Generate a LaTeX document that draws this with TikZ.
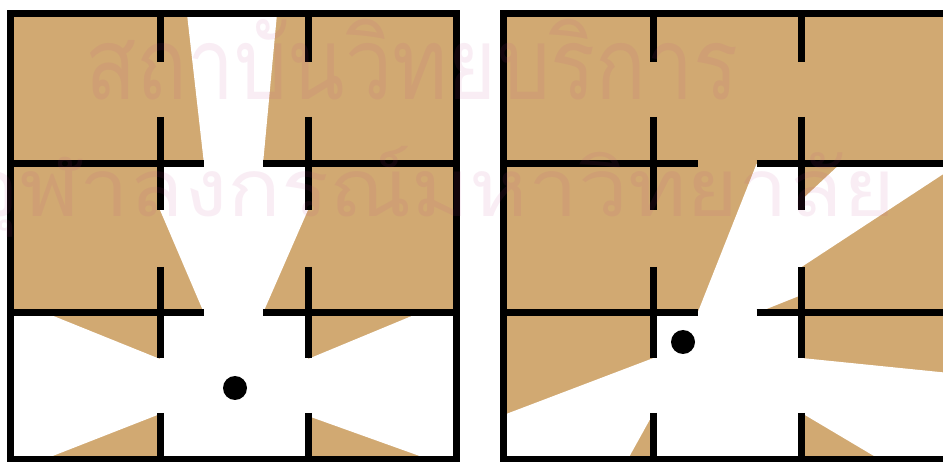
\documentclass[tikz,border=0pt]{standalone}
\usepackage{fontspec}
\newfontfamily\thaifont[Script=Thai]{Loma}
\definecolor{tanfill}{RGB}{209,169,114}
\definecolor{wmark}{RGB}{190,60,140}
\tikzset{
  wall/.style={line width=7pt, black, line cap=butt},
  lit/.style={fill=white, draw=none},
  lamp/.style={circle, fill=black, inner sep=0pt, minimum size=24pt},
  wm/.style={anchor=base west, inner sep=0pt, text=wmark, text opacity=0.09}
}
\begin{document}
\begin{tikzpicture}[x=1pt,y=-1pt]
\useasboundingbox (0,0) rectangle (943,462);
\clip (0,0) rectangle (943,462);
\fill[white] (0,0) rectangle (943,462);
% ---------- left panel ----------
\fill[tanfill] (10,14) rectangle (456,459);
\fill[lit] (187,14) -- (277,14) -- (263,164) -- (308,164) -- (308,210) -- (263,313)
  -- (308,313) -- (308,359) -- (419,313) -- (456,313) -- (456,459) -- (428,459)
  -- (308,416) -- (308,459) -- (160,459) -- (160,414) -- (45,459) -- (10,459)
  -- (10,313) -- (46,313) -- (160,359) -- (160,313) -- (204,313) -- (160,210)
  -- (160,164) -- (204,164) -- cycle;
\foreach \x in {160,308}{
  \draw[wall] (\x,14) -- (\x,62);
  \draw[wall] (\x,117) -- (\x,210);
  \draw[wall] (\x,267) -- (\x,358);
  \draw[wall] (\x,413) -- (\x,459);
}
\foreach \y in {164,313}{
  \draw[wall] (10,\y) -- (204,\y);
  \draw[wall] (263,\y) -- (456,\y);
}
\draw[wall] (10,14) rectangle (456,459);
\node[lamp] (lampL) at (235,388) {};
% ---------- right panel ----------
\fill[tanfill] (503.5,14) rectangle (949.5,459);
\fill[lit] (503.5,415) -- (653.5,358) -- (653.5,313) -- (697.5,313) -- (756.5,164)
  -- (801.5,164) -- (801.5,200) -- (840,164) -- (949.5,164) -- (949.5,170)
  -- (801.5,267) -- (801.5,295) -- (756.5,313) -- (801.5,313) -- (801.5,358)
  -- (949.5,373) -- (949.5,459) -- (879,459) -- (801.5,413) -- (801.5,459)
  -- (653.5,459) -- (653.5,413) -- (628,459) -- (503.5,459) -- cycle;
\foreach \x in {653.5,801.5}{
  \draw[wall] (\x,14) -- (\x,62);
  \draw[wall] (\x,117) -- (\x,210);
  \draw[wall] (\x,267) -- (\x,358);
  \draw[wall] (\x,413) -- (\x,459);
}
\foreach \y in {164,313}{
  \draw[wall] (503.5,\y) -- (697.5,\y);
  \draw[wall] (756.5,\y) -- (949.5,\y);
}
\draw[wall] (503.5,14) rectangle (949.5,459);
\node[lamp] (lampR) at (683,342) {};
% ---------- watermark ----------
\node[wm] (wm1) at (85,100) {\scalebox{0.84}[1]{\thaifont\fontsize{100}{100}\selectfont สถาบันวิทยบริการ}};
\node[wm] (wm2) at (-33,217) {\scalebox{1.11}[1]{\thaifont\fontsize{80}{80}\selectfont จุฬาลงกรณ์มหาวิทยาลัย}};
\end{tikzpicture}
\end{document}
